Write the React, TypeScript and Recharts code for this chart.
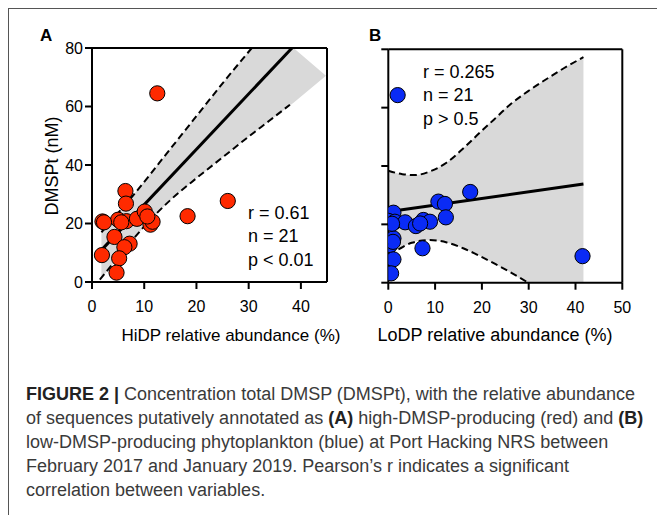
import React from 'react';
import { ComposedChart, XAxis, YAxis, Scatter, Line, Area, ReferenceLine, Label } from 'recharts';

const FONT = '"Liberation Sans", Arial, Helvetica, sans-serif';

// Panel A: HiDP relative abundance (%) vs DMSPt (nM)
const hidpAbundance = [12.5, 26.0, 18.3, 6.4, 6.5, 2.0, 5.0, 6.6, 8.6, 10.1, 11.2, 11.6, 4.3, 7.2, 6.2, 1.9, 5.2, 4.7, 2.3, 5.6, 10.6];
const dmsptA = [64.5, 27.7, 22.5, 31.1, 26.8, 20.7, 21.3, 20.8, 21.6, 24.1, 19.6, 20.6, 15.4, 13.1, 11.9, 9.2, 8.1, 3.2, 20.4, 20.4, 22.4];

const fitAx = [1.8, 38.3];
const fitAy = [10.9, 80];
const upperAx = [1.8, 5, 8.2, 15, 20, 25, 30.6];
const upperAy = [17, 23.6, 30.3, 45.5, 56.7, 67.9, 80];
const lowerAx = [1.5, 5, 10, 15, 20, 25, 30, 34, 37.9];
const lowerAy = [0.8, 8.4, 19, 28, 35.5, 42.6, 49.7, 55.2, 60.6];
const bandAx = [1.8, 5, 10, 15, 20, 25, 30.6, 38.6, 44.8];
const bandALow = [1.2, 8.4, 19, 28, 35.5, 42.6, 50.5, 61.3, 70.5];
const bandAHigh = [17, 23.6, 34.3, 45.5, 56.7, 67.9, 80, 80, 70.5];

// Panel B: LoDP relative abundance (%) vs DMSPt (nM)
const lodpAbundance = [2.0, 17.5, 10.7, 12.1, 12.3, 1.1, 0.0, 1.4, 3.6, 5.9, 7.5, 8.9, 0.4, 1.1, 7.3, 1.1, 0.6, 41.5, 0.8, 6.8, 1.0];
const dmsptB = [64.3, 31.1, 27.8, 27.0, 22.4, 24.0, 21.2, 20.9, 20.7, 19.4, 21.5, 20.9, 12.9, 15.2, 11.8, 8.0, 3.2, 9.1, 20.2, 20.3, 14.0];

const fitBx = [0.3, 41.7];
const fitBy = [24.4, 33.8];
const upperBx = [0, 3, 5.7, 9, 12.5, 16, 19.6, 22.5, 26, 30, 34, 37.5, 41.7];
const upperBy = [38.4, 37.2, 36.9, 38.2, 41.2, 46, 51.5, 55.8, 61, 65.8, 70, 73.5, 77.3];
const lowerBx = [0, 2.1, 5, 8.9, 12.5, 16, 19.5, 23.2, 26.5, 29.9];
const lowerBy = [10, 11.4, 13.7, 14.6, 13.8, 11.8, 9.2, 6.1, 3.2, 0];
const bandBx = [0, 3, 5.7, 9, 12.5, 16, 19.5, 23.2, 26.5, 29.9, 34, 37.5, 41.7];
const bandBLow = [10, 12.2, 14.1, 14.6, 13.8, 11.8, 9.2, 6.1, 3.2, 0, 0, 0, 0];
const bandBHigh = [38.4, 37.2, 36.9, 38.2, 41.2, 46, 51.4, 57, 61.7, 65.7, 70, 73.5, 77.3];

const ticksA = [0, 10, 20, 30, 40];
const ticksB = [0, 10, 20, 30, 40, 50];
const ticksY = [0, 20, 40, 60, 80];

const zip = (xs: number[], ys: number[]) => xs.map((x, i) => ({ x, y: ys[i] }));
const band = (xs: number[], lo: number[], hi: number[]) => xs.map((x, i) => ({ x, range: [lo[i], hi[i]] }));

const RED = '#FF2A00';
const BLUE = '#0A2BF5';
const GRAY = '#D9D9D9';

const dot = (color: string) => (props: any) => (
  <circle cx={props.cx} cy={props.cy} r={7.6} fill={color} stroke="#000" strokeWidth={1} />
);

const axisStyle = { stroke: '#000', strokeWidth: 2 };
const tickStyle = { fill: '#000', fontSize: 16, fontFamily: FONT };

const xTitle = (text: string, cx: number, size: number) => () => (
  <text x={cx} y={341} textAnchor="middle" fontSize={size} fontFamily={FONT} fill="#000">
    {text}
  </text>
);

const yTitle = () => {
  const cy = 166;
  const cx = 58;
  return (
    <text x={cx} y={cy} transform={`rotate(-90 ${cx} ${cy})`} textAnchor="middle" fontSize={18} fontFamily={FONT} fill="#000">
      DMSPt (nM)
    </text>
  );
};

function PanelA() {
  return (
    <ComposedChart width={340} height={360} margin={{ top: 48, right: 13, bottom: 18, left: 0 }}>
      <XAxis dataKey="x" type="number" domain={[0, 45]} ticks={ticksA} axisLine={axisStyle} tickLine={axisStyle}
        tickSize={7} tickMargin={12} tick={tickStyle} height={60} allowDataOverflow>
        <Label content={xTitle('HiDP relative abundance (%)', 231, 17)} />
      </XAxis>
      <YAxis type="number" domain={[0, 80]} ticks={ticksY} axisLine={axisStyle} tickLine={axisStyle}
        tickSize={7} tickMargin={2} tick={tickStyle} width={92} allowDataOverflow>
        <Label content={yTitle} />
      </YAxis>
      <Area data={band(bandAx, bandALow, bandAHigh)} dataKey="range" type="linear" fill={GRAY} fillOpacity={1} stroke="none" isAnimationActive={false} />
      <Line data={zip(upperAx, upperAy)} dataKey="y" type="monotone" stroke="#000" strokeWidth={2} strokeDasharray="7 4" dot={false} activeDot={false} isAnimationActive={false} />
      <Line data={zip(lowerAx, lowerAy)} dataKey="y" type="monotone" stroke="#000" strokeWidth={2} strokeDasharray="7 4" dot={false} activeDot={false} isAnimationActive={false} />
      <Line data={zip(fitAx, fitAy)} dataKey="y" type="linear" stroke="#000" strokeWidth={3} dot={false} activeDot={false} isAnimationActive={false} />
      <ReferenceLine y={80} stroke="#000" strokeWidth={2} />
      <ReferenceLine x={45} stroke="#000" strokeWidth={2} />
      <Scatter data={zip(hidpAbundance, dmsptA)} dataKey="y" shape={dot(RED)} isAnimationActive={false} />
    </ComposedChart>
  );
}

function PanelB() {
  return (
    <ComposedChart width={317} height={360} margin={{ top: 49.3, right: 34.7, bottom: 17.3, left: 0 }}>
      <XAxis dataKey="x" type="number" domain={[0, 50]} ticks={ticksB} axisLine={axisStyle} tickLine={axisStyle}
        tickSize={7} tickMargin={12} tick={tickStyle} height={60} allowDataOverflow>
        <Label content={xTitle('LoDP relative abundance (%)', 155, 18)} />
      </XAxis>
      <YAxis type="number" domain={[0, 80]} ticks={ticksY} axisLine={axisStyle} tickLine={axisStyle}
        tickSize={7} tickFormatter={() => ''} tick={tickStyle} width={48.3} allowDataOverflow />
      <Area data={band(bandBx, bandBLow, bandBHigh)} dataKey="range" type="monotone" fill={GRAY} fillOpacity={1} stroke="none" isAnimationActive={false} />
      <Line data={zip(upperBx, upperBy)} dataKey="y" type="monotone" stroke="#000" strokeWidth={2} strokeDasharray="7 4" dot={false} activeDot={false} isAnimationActive={false} />
      <Line data={zip(lowerBx, lowerBy)} dataKey="y" type="monotone" stroke="#000" strokeWidth={2} strokeDasharray="7 4" dot={false} activeDot={false} isAnimationActive={false} />
      <Line data={zip(fitBx, fitBy)} dataKey="y" type="linear" stroke="#000" strokeWidth={3} dot={false} activeDot={false} isAnimationActive={false} />
      <ReferenceLine y={80} stroke="#000" strokeWidth={2} />
      <ReferenceLine x={50} stroke="#000" strokeWidth={2} />
      <Scatter data={zip(lodpAbundance, dmsptB)} dataKey="y" shape={dot(BLUE)} isAnimationActive={false} />
    </ComposedChart>
  );
}

const statsA = ['r = 0.61', 'n = 21', 'p < 0.01'];
const statsB = ['r = 0.265', 'n = 21', 'p > 0.5'];

const captionLines: React.ReactNode[] = [
  <><b style={{ color: '#222' }}>FIGURE 2 |</b> Concentration total DMSP (DMSPt), with the relative abundance</>,
  <>of sequences putatively annotated as <b style={{ color: '#222' }}>(A)</b> high-DMSP-producing (red) and <b style={{ color: '#222' }}>(B)</b></>,
  <>low-DMSP-producing phytoplankton (blue) at Port Hacking NRS between</>,
  <>February 2017 and January 2019. Pearson’s r indicates a significant</>,
  <>correlation between variables.</>,
];

export default function App() {
  return (
    <div style={{ position: 'absolute', left: 0, top: 0, width: 657, height: 515, overflow: 'hidden', background: '#fff', fontFamily: FONT }}>
      <div style={{ position: 'absolute', left: 8, top: 8, width: 700, height: 600, borderLeft: '1px solid #555', borderTop: '1px solid #555' }} />
      <div style={{ position: 'absolute', left: 0, top: 0 }}><PanelA /></div>
      <div style={{ position: 'absolute', left: 340, top: 0 }}><PanelB /></div>
      <div style={{ position: 'absolute', left: 40, top: 26, fontSize: 17, fontWeight: 'bold', lineHeight: '20px' }}>A</div>
      <div style={{ position: 'absolute', left: 369, top: 26, fontSize: 17, fontWeight: 'bold', lineHeight: '20px' }}>B</div>
      <div style={{ position: 'absolute', left: 248, top: 201.5, fontSize: 18, lineHeight: '23.5px', color: '#000', whiteSpace: 'nowrap' }}>
        {statsA.map((s) => <div key={s}>{s}</div>)}
      </div>
      <div style={{ position: 'absolute', left: 423, top: 60.5, fontSize: 18, lineHeight: '23.5px', color: '#000', whiteSpace: 'nowrap' }}>
        {statsB.map((s) => <div key={s}>{s}</div>)}
      </div>
      <div style={{ position: 'absolute', left: 26, top: 382, fontSize: 18, lineHeight: '24px', color: '#3a3a3a', whiteSpace: 'nowrap' }}>
        {captionLines.map((l, i) => <div key={i}>{l}</div>)}
      </div>
    </div>
  );
}
